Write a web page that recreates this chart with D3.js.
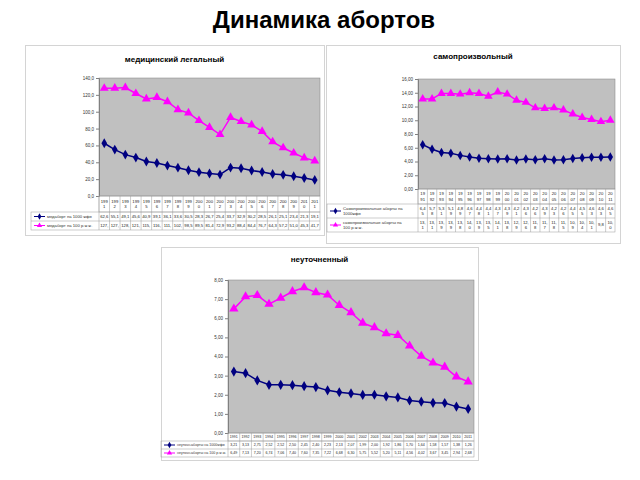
<!DOCTYPE html>
<html>
<head>
<meta charset="utf-8">
<script src="https://cdn.jsdelivr.net/npm/d3@7"></script>
<style>
  body { margin: 0; background: #fff; }
  svg { font-family: Arial, "Liberation Sans", sans-serif; }
</style>
</head>
<body>
<svg id="chart" width="640" height="480"></svg>
<script>
// Data
var years = [1991, 1992, 1993, 1994, 1995, 1996, 1997, 1998, 1999, 2000, 2001,
             2002, 2003, 2004, 2005, 2006, 2007, 2008, 2009, 2010, 2011];

var medPer1000 = [62.6, 55.1, 49.1, 45.6, 40.9, 39.1, 36.1, 33.6, 30.5, 28.3, 26.7,
                  25.4, 33.7, 32.9, 30.2, 28.5, 26.1, 25.1, 23.4, 21.3, 19.1];
var medPer100 = [127.8, 127.9, 128.6, 121.6, 115.1, 116.9, 111.9, 102.4, 98.5, 89.5, 81.4,
                 72.9, 93.2, 88.4, 84.4, 76.7, 64.3, 57.2, 51.0, 45.3, 41.7];

var spontPer1000 = [6.45, 5.78, 5.31, 5.19, 4.89, 4.67, 4.48, 4.41, 4.37, 4.39, 4.21,
                    4.36, 4.26, 4.39, 4.23, 4.26, 4.45, 4.55, 4.63, 4.63, 4.65];
var spontPer100 = [13.1, 13.1, 13.9, 13.9, 13.8, 14.0, 13.9, 13.5, 14.1, 13.8, 12.9,
                   12.6, 11.8, 11.7, 11.8, 11.5, 10.9, 10.4, 10.1, 9.8, 10.0];

var unspPer1000 = [3.21, 3.13, 2.75, 2.52, 2.52, 2.50, 2.45, 2.40, 2.23, 2.13, 2.07,
                   1.99, 2.00, 1.92, 1.86, 1.70, 1.64, 1.58, 1.57, 1.38, 1.26];
var unspPer100 = [6.49, 7.13, 7.20, 6.74, 7.06, 7.40, 7.60, 7.35, 7.22, 6.68, 6.30,
                  5.75, 5.52, 5.20, 5.11, 4.56, 4.02, 3.67, 3.45, 2.94, 2.68];

var NAVY = '#000080',
    MAGENTA = '#ff00ff',
    PLOT_BG = '#c0c0c0',
    GRID = '#808080';

var svg = d3.select('#chart');

// Page title
svg.append('text')
  .attr('x', 324)
  .attr('y', 28)
  .attr('text-anchor', 'middle')
  .style('font-size', '24px')
  .style('font-weight', 'bold')
  .text('Динамика абортов');

var comma = function(fmt) {
  var f = d3.format(fmt);
  return function(v) { return f(v).replace('.', ','); };
};

/**
 * Draws one chart panel with its data table underneath.
 */
function drawPanel(cfg) {
  var g = svg.append('g');

  // Panel frame
  g.append('rect')
    .attr('x', cfg.box[0] + 0.5).attr('y', cfg.box[1] + 0.5)
    .attr('width', cfg.box[2] - cfg.box[0]).attr('height', cfg.box[3] - cfg.box[1])
    .attr('fill', '#fff').attr('stroke', '#d4d4d4');

  g.append('text')
    .attr('x', (cfg.box[0] + cfg.box[2]) / 2)
    .attr('y', cfg.titleY)
    .attr('text-anchor', 'middle')
    .style('font-size', '8px')
    .style('font-weight', 'bold')
    .text(cfg.title);

  var x = d3.scaleBand().domain(years).range([cfg.plot[0], cfg.plot[2]]).padding(0),
      y = d3.scaleLinear().domain([0, cfg.yMax]).range([cfg.plot[3], cfg.plot[1]]);

  g.append('rect')
    .attr('x', cfg.plot[0]).attr('y', cfg.plot[1])
    .attr('width', cfg.plot[2] - cfg.plot[0]).attr('height', cfg.plot[3] - cfg.plot[1])
    .attr('fill', PLOT_BG).attr('stroke', GRID).attr('stroke-width', 0.5);

  // Y axis
  var yAxis = g.append('g')
    .attr('transform', 'translate(' + cfg.plot[0] + ',0)')
    .call(d3.axisLeft(y).ticks(cfg.yTicks).tickSize(3).tickFormat(comma(cfg.yFmt)));
  yAxis.select('.domain').attr('stroke', GRID);
  yAxis.selectAll('line').attr('stroke', GRID);
  yAxis.selectAll('text').style('font-size', '4.5px').attr('fill', '#333').attr('x', -5);

  // Lines and markers
  var line = d3.line()
    .x(function(d, i) { return x(years[i]) + x.bandwidth() / 2; })
    .y(function(d) { return y(d); });

  var series = [
    { values: cfg.s1, color: NAVY, marker: d3.symbolDiamond, size: cfg.mark[0], name: cfg.names[0] },
    { values: cfg.s2, color: MAGENTA, marker: d3.symbolTriangle, size: cfg.mark[1], name: cfg.names[1] }
  ];

  series.forEach(function(s) {
    g.append('path')
      .datum(s.values)
      .attr('d', line)
      .attr('fill', 'none')
      .attr('stroke', s.color)
      .attr('stroke-width', 1.5);

    g.selectAll(null)
      .data(s.values)
      .enter().append('path')
      .attr('transform', function(d, i) {
        return 'translate(' + (x(years[i]) + x.bandwidth() / 2) + ',' + y(d) + ')';
      })
      .attr('d', d3.symbol().type(s.marker).size(s.size))
      .attr('fill', s.color);
  });

  // Data table
  var rows = cfg.rows,   // [yearTop, r1Top, r2Top, bottom]
      tableLeft = cfg.tableLeft,
      tg = g.append('g').attr('stroke', '#9a9a9a').attr('stroke-width', 0.5).attr('fill', 'none');

  tg.append('rect').attr('x', cfg.plot[0]).attr('y', rows[0])
    .attr('width', cfg.plot[2] - cfg.plot[0]).attr('height', rows[1] - rows[0]);
  tg.append('rect').attr('x', tableLeft).attr('y', rows[1])
    .attr('width', cfg.plot[2] - tableLeft).attr('height', rows[3] - rows[1]);
  tg.append('line').attr('x1', tableLeft).attr('x2', cfg.plot[2])
    .attr('y1', rows[2]).attr('y2', rows[2]);
  years.forEach(function(yr) {
    tg.append('line').attr('x1', x(yr)).attr('x2', x(yr))
      .attr('y1', rows[0]).attr('y2', rows[3]);
  });

  var cellText = function(parts, cx, top, bottom) {
    var lh = cfg.cellFont * 1.25,
        start = (top + bottom) / 2 - (parts.length - 1) * lh / 2 + cfg.cellFont * 0.35;
    parts.forEach(function(p, k) {
      g.append('text')
        .attr('x', cx).attr('y', start + k * lh)
        .attr('text-anchor', 'middle')
        .style('font-size', cfg.cellFont + 'px')
        .attr('fill', '#222')
        .text(p);
    });
  };

  years.forEach(function(yr, i) {
    var cx = x(yr) + x.bandwidth() / 2;
    cellText(cfg.yearParts(yr), cx, rows[0], rows[1]);
    cellText(cfg.valParts(cfg.s1[i], 0), cx, rows[1], rows[2]);
    cellText(cfg.valParts(cfg.s2[i], 1), cx, rows[2], rows[3]);
  });

  // Legend keys in the table's first column
  series.forEach(function(s, k) {
    var top = rows[k + 1], bottom = rows[k + 2], my = (top + bottom) / 2;
    g.append('line')
      .attr('x1', tableLeft + 3).attr('x2', tableLeft + 14)
      .attr('y1', my).attr('y2', my)
      .attr('stroke', s.color).attr('stroke-width', 1);
    g.append('path')
      .attr('transform', 'translate(' + (tableLeft + 8.5) + ',' + my + ')')
      .attr('d', d3.symbol().type(s.marker).size(12))
      .attr('fill', s.color);
    var lines = s.name.split('\n'),
        lh = cfg.cellFont * 1.3,
        start = my - (lines.length - 1) * lh / 2 + cfg.cellFont * 0.35;
    lines.forEach(function(t, j) {
      g.append('text')
        .attr('x', tableLeft + 16).attr('y', start + j * lh)
        .style('font-size', cfg.cellFont + 'px')
        .attr('fill', '#333')
        .text(t);
    });
  });
}

var f1 = comma('.1f'), f2 = comma('.2f');

drawPanel({
  title: 'медицинский легальный',
  box: [25, 45, 324, 235], titleY: 62,
  plot: [99, 78, 320, 196],
  rows: [196, 212, 221, 230], tableLeft: 31,
  yMax: 140, yTicks: 7, yFmt: '.1f', mark: [28, 34],
  s1: medPer1000, s2: medPer100,
  names: ['медаборт  на 1000 жфв', 'медаборт на 100 р.ж.ж.'],
  cellFont: 4.2,
  yearParts: function(yr) { var s = String(yr); return [s.slice(0, 3), s.slice(3)]; },
  valParts: function(v) { return [f1(v).slice(0, 4)]; }
});

drawPanel({
  title: 'самопроизвольный',
  box: [326, 45, 620, 243], titleY: 59,
  plot: [418, 79, 615, 189],
  rows: [189, 204, 218, 232], tableLeft: 327,
  yMax: 16, yTicks: 8, yFmt: '.2f', mark: [26, 32],
  s1: spontPer1000, s2: spontPer100,
  names: ['Самопроизвольные аборты на\n1000жфв', 'самопроизвольные аборты на\n100 р.ж.ж.'],
  cellFont: 4.2,
  yearParts: function(yr) { var s = String(yr); return [s.slice(0, 2), s.slice(2)]; },
  valParts: function(v, k) {
    var s = k === 0 ? f2(v) : f1(v);
    return s.length > 3 ? [s.slice(0, 3), s.slice(3)] : [s];
  }
});

drawPanel({
  title: 'неуточненный',
  box: [161, 247, 478, 460], titleY: 262,
  plot: [228, 280, 474, 433],
  rows: [433, 441, 449, 457], tableLeft: 161,
  yMax: 8, yTicks: 8, yFmt: '.2f', mark: [30, 38],
  s1: unspPer1000, s2: unspPer100,
  names: ['неуточн.аборты на 1000жфв', 'неуточн.аборты на 100 р.ж.ж.'],
  cellFont: 3.6,
  yearParts: function(yr) { return [String(yr)]; },
  valParts: function(v) { return [f2(v)]; }
});
</script>
</body>
</html>
